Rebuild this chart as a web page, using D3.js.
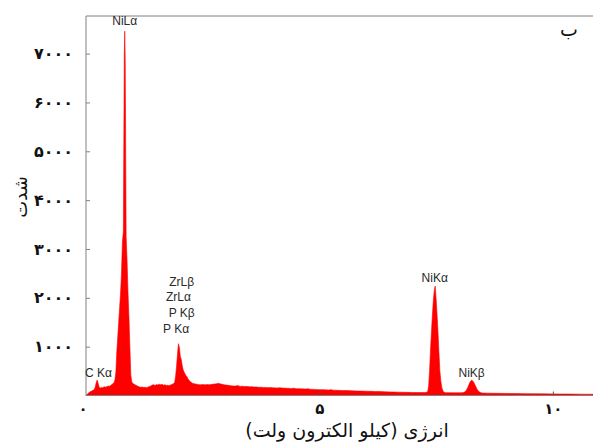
<!DOCTYPE html>
<html>
<head>
<meta charset="utf-8">
<script src="https://cdn.jsdelivr.net/npm/d3@7"></script>
<style>
  html, body { margin: 0; padding: 0; background: #fff; }
  svg { display: block; }
</style>
</head>
<body>
<svg id="chart" width="593" height="444"></svg>
<script>
// Energy (keV) and counts
const energy = [0.00,0.03,0.06,0.09,0.12,0.15,0.18,0.20,0.22,0.24,0.26,0.28,0.30,0.33,0.36,0.39,0.42,0.45,0.48,0.51,0.54,0.57,0.60,0.62,0.64,0.66,0.68,0.70,0.72,0.74,0.76,0.78,0.80,0.82,0.83,0.84,0.86,0.88,0.90,0.92,0.94,0.96,0.98,1.00,1.03,1.06,1.09,1.12,1.15,1.18,1.21,1.24,1.27,1.30,1.33,1.36,1.39,1.42,1.45,1.48,1.51,1.54,1.57,1.60,1.63,1.66,1.69,1.72,1.75,1.78,1.81,1.84,1.87,1.90,1.92,1.94,1.96,1.98,2.00,2.02,2.04,2.06,2.08,2.10,2.12,2.14,2.16,2.18,2.20,2.22,2.24,2.26,2.28,2.30,2.34,2.38,2.42,2.46,2.50,2.55,2.60,2.65,2.70,2.75,2.80,2.84,2.88,2.92,2.96,3.00,3.05,3.10,3.15,3.20,3.25,3.30,3.35,3.40,3.45,3.50,3.55,3.60,3.65,3.70,3.75,3.80,3.85,3.90,3.95,4.00,4.10,4.15,4.20,4.30,4.40,4.45,4.50,4.60,4.70,4.75,4.80,4.90,5.00,5.10,5.20,5.25,5.30,5.40,5.50,5.60,5.70,5.80,5.90,6.00,6.10,6.20,6.30,6.40,6.50,6.60,6.70,6.80,6.90,7.00,7.10,7.20,7.28,7.32,7.34,7.36,7.38,7.40,7.42,7.44,7.46,7.48,7.50,7.52,7.54,7.56,7.58,7.60,7.62,7.64,7.66,7.70,7.80,7.90,8.00,8.06,8.10,8.14,8.18,8.22,8.26,8.30,8.34,8.38,8.42,8.46,8.50,8.60,8.70,8.80,9.00,9.20,9.40,9.60,9.80,10.00,10.20,10.40,10.60,10.86];
const counts = [0,30,55,75,90,105,130,180,270,315,250,180,150,165,160,180,170,185,195,190,215,235,265,320,480,900,1200,1500,1800,2100,2500,3150,3350,6950,7460,6900,3250,2750,2100,1600,1000,420,280,250,230,215,200,185,175,168,172,162,170,160,175,185,195,215,220,205,225,215,230,220,228,212,222,205,210,200,215,225,240,270,400,600,850,1060,990,800,740,620,530,480,445,410,390,350,320,295,280,265,252,245,238,228,222,220,225,218,224,220,228,234,242,250,238,228,218,214,208,200,195,192,205,186,190,182,185,178,180,172,176,168,170,164,166,160,162,158,154,160,152,148,144,150,140,136,132,138,128,125,120,118,112,120,108,105,102,100,96,93,90,88,86,82,80,76,74,70,68,66,64,62,61,60,60,80,200,520,950,1300,1650,1950,2150,2240,1980,1650,1300,880,500,300,170,105,70,58,56,55,55,58,65,95,170,265,315,280,200,125,75,55,50,48,46,45,42,40,38,36,34,32,30,29,27,25];

// Peak annotations
const peakLabels = ["NiLα","C Kα","ZrLβ","ZrLα","P Kβ","P Kα","NiKα","NiKβ"];
const peakLabelEnergy = [0.83,0.0,2.05,1.98,2.05,1.93,7.47,8.26];
const peakLabelCounts = [7590,380,2250,1930,1600,1280,2330,380];
const peakLabelAnchor = ["middle","start","middle","middle","middle","middle","middle","middle"];

// Axis ticks
const xTicks = [0,5,10];
const yTicks = [1000,2000,3000,4000,5000,6000,7000];
const xTitle = "انرژی (کیلو الکترون ولت)";
const yTitle = "شدت";
const panelLabel = "ب";

const toPersian = n => String(n).replace(/\d/g, d => "۰۱۲۳۴۵۶۷۸۹"[+d]);

const svg = d3.select("#chart");
const pLeft = 86, pTop = 16, pRight = 593, pBottom = 395.5;

const x = d3.scaleLinear().domain([0, 10.86]).range([pLeft, pRight]);
const y = d3.scaleLinear().domain([0, 7770]).range([pBottom, pTop]);

const data = energy.map((e, i) => ({e, c: counts[i]}));

// spectrum fill
const area = d3.area().x(d => x(d.e)).y0(y(0)).y1(d => y(d.c));
svg.append("path").datum(data)
  .attr("d", area)
  .attr("fill", "#ff0000")
  .attr("stroke", "#ff0000")
  .attr("stroke-width", 0.6);

// frame
svg.append("path")
  .attr("d", `M${pRight+2},${pTop}H${pLeft}V${pBottom}H${pRight+2}`)
  .attr("fill", "none").attr("stroke", "#808080").attr("stroke-width", 1);

// axes
const yAxis = d3.axisLeft(y).tickValues(yTicks).tickSize(-4).tickPadding(13)
  .tickFormat(toPersian);
const gy = svg.append("g").attr("transform", `translate(${pLeft},0)`).call(yAxis);
gy.select(".domain").remove();
gy.selectAll(".tick line").attr("stroke", "#808080");
gy.selectAll(".tick text").attr("font-family", "DejaVu Sans").attr("font-size", 16)
  .attr("font-weight", "bold").attr("fill", "#111");

const xAxis = d3.axisBottom(x).tickValues(xTicks).tickSize(-4).tickPadding(8)
  .tickFormat(toPersian);
const gx = svg.append("g").attr("transform", `translate(0,${pBottom})`).call(xAxis);
gx.select(".domain").remove();
gx.selectAll(".tick line").attr("stroke", "#555");
gx.selectAll(".tick text").attr("font-family", "DejaVu Sans").attr("font-size", 15)
  .attr("font-weight", "bold").attr("fill", "#111");
gx.selectAll(".tick").filter(d => d === 0).select("line").remove();
gx.selectAll(".tick").filter(d => d === 0).attr("transform", `translate(${x(0)-3},0)`);

// peak labels
svg.append("g").selectAll("text").data(peakLabels).join("text")
  .attr("x", (d, i) => i === 1 ? x(0) - 1 : x(peakLabelEnergy[i]))
  .attr("y", (d, i) => y(peakLabelCounts[i]))
  .attr("text-anchor", (d, i) => peakLabelAnchor[i])
  .attr("font-family", "Liberation Sans, Arial, sans-serif")
  .attr("font-size", 12)
  .attr("fill", "#2a2a2a")
  .text(d => d);

// titles
svg.append("text")
  .attr("x", 347).attr("y", 437)
  .attr("text-anchor", "middle")
  .attr("font-family", "DejaVu Sans").attr("font-size", 19)
  .attr("fill", "#111")
  .text(xTitle);

svg.append("text")
  .attr("transform", "translate(27,197) rotate(-90)")
  .attr("text-anchor", "middle")
  .attr("font-family", "DejaVu Sans").attr("font-size", 18)
  .attr("fill", "#111")
  .text(yTitle);

svg.append("text")
  .attr("x", 578).attr("y", 36)
  .attr("text-anchor", "end")
  .attr("font-family", "DejaVu Sans").attr("font-size", 19)
  .attr("fill", "#111")
  .text(panelLabel);
</script>
</body>
</html>
